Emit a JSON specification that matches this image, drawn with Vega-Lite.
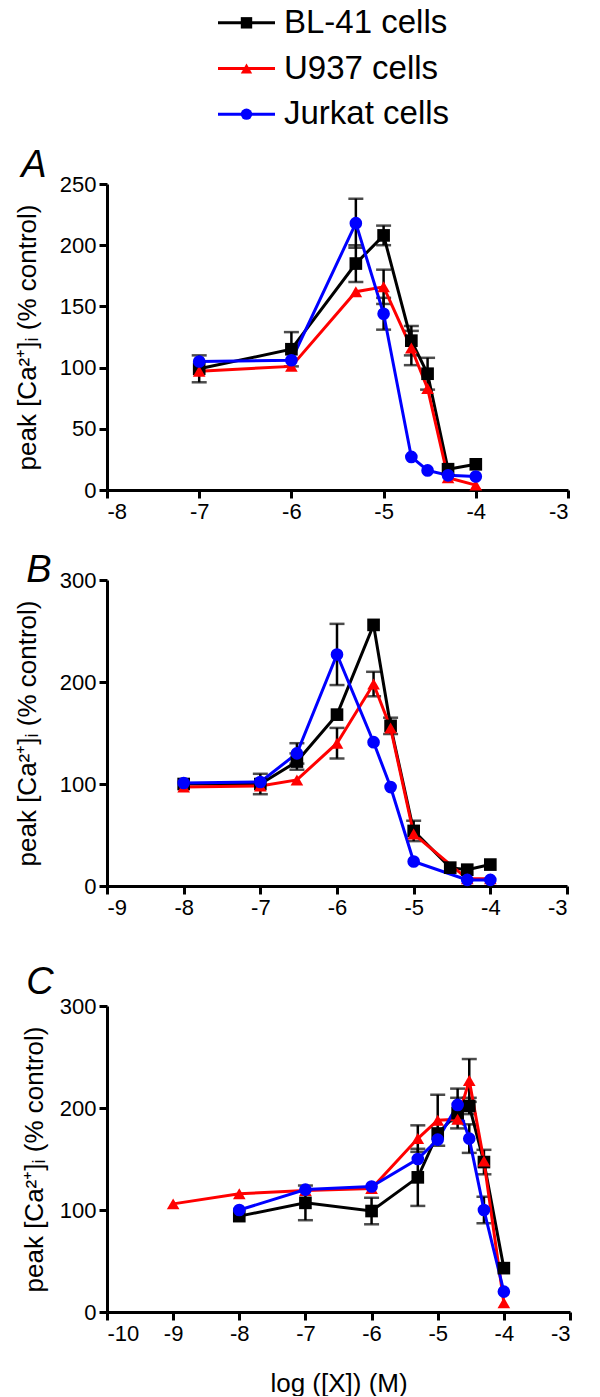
{
  "$schema": "https://vega.github.io/schema/vega-lite/v6.json",
  "padding": {"left": 14, "top": 0, "right": 0, "bottom": 0},
  "background": "white",
  "config": {
    "view": {"stroke": null},
    "font": "Liberation Sans",
    "title": {"font": "Liberation Sans", "fontSize": 38, "fontStyle": "italic", "fontWeight": "normal", "anchor": "start", "frame": "bounds", "color": "black", "offset": 0},
    "axis": {"domainColor": "black", "tickColor": "black", "labelColor": "black", "titleColor": "black", "labelFont": "Liberation Sans", "labelFontSize": 22, "titleFont": "Liberation Sans", "titleFontSize": 26, "titleFontWeight": "normal", "grid": false, "domainWidth": 3, "tickWidth": 3, "tickSize": 8, "labelPadding": 3, "titlePadding": 19, "labelOverlap": false}
  },
  "datasets": {
    "legend": [
      {"cell": "BL-41 cells"},
      {"cell": "U937 cells"},
      {"cell": "Jurkat cells"}
    ],
    "a": [
      {"cell": "BL-41 cells", "logx": -7, "y": 99, "err": 11},
      {"cell": "BL-41 cells", "logx": -6, "y": 115, "err": 14},
      {"cell": "BL-41 cells", "logx": -5.301, "y": 185, "err": 15},
      {"cell": "BL-41 cells", "logx": -5, "y": 208, "err": 8},
      {"cell": "BL-41 cells", "logx": -4.699, "y": 122, "err": 12},
      {"cell": "BL-41 cells", "logx": -4.523, "y": 95, "err": 13},
      {"cell": "BL-41 cells", "logx": -4.301, "y": 17, "err": 0},
      {"cell": "BL-41 cells", "logx": -4, "y": 21, "err": 0},
      {"cell": "U937 cells", "logx": -7, "y": 97, "err": 0},
      {"cell": "U937 cells", "logx": -6, "y": 101, "err": 0},
      {"cell": "U937 cells", "logx": -5.301, "y": 162, "err": 0},
      {"cell": "U937 cells", "logx": -5, "y": 166, "err": 14},
      {"cell": "U937 cells", "logx": -4.699, "y": 116, "err": 14},
      {"cell": "U937 cells", "logx": -4.523, "y": 83, "err": 0},
      {"cell": "U937 cells", "logx": -4.301, "y": 10, "err": 0},
      {"cell": "U937 cells", "logx": -4, "y": 4, "err": 0},
      {"cell": "Jurkat cells", "logx": -7, "y": 105, "err": 0},
      {"cell": "Jurkat cells", "logx": -6, "y": 106, "err": 0},
      {"cell": "Jurkat cells", "logx": -5.301, "y": 218, "err": 20},
      {"cell": "Jurkat cells", "logx": -5, "y": 144, "err": 13},
      {"cell": "Jurkat cells", "logx": -4.699, "y": 27, "err": 0},
      {"cell": "Jurkat cells", "logx": -4.523, "y": 16, "err": 0},
      {"cell": "Jurkat cells", "logx": -4.301, "y": 12, "err": 0},
      {"cell": "Jurkat cells", "logx": -4, "y": 11, "err": 0}
    ],
    "b": [
      {"cell": "BL-41 cells", "logx": -8, "y": 100, "err": 0},
      {"cell": "BL-41 cells", "logx": -7, "y": 100, "err": 10},
      {"cell": "BL-41 cells", "logx": -6.523, "y": 122, "err": 8},
      {"cell": "BL-41 cells", "logx": -6, "y": 168, "err": 0},
      {"cell": "BL-41 cells", "logx": -5.523, "y": 256, "err": 0},
      {"cell": "BL-41 cells", "logx": -5.301, "y": 157, "err": 8},
      {"cell": "BL-41 cells", "logx": -5, "y": 54, "err": 10},
      {"cell": "BL-41 cells", "logx": -4.523, "y": 18, "err": 0},
      {"cell": "BL-41 cells", "logx": -4.301, "y": 16, "err": 0},
      {"cell": "BL-41 cells", "logx": -4, "y": 21, "err": 0},
      {"cell": "U937 cells", "logx": -8, "y": 97, "err": 0},
      {"cell": "U937 cells", "logx": -7, "y": 98, "err": 0},
      {"cell": "U937 cells", "logx": -6.523, "y": 104, "err": 0},
      {"cell": "U937 cells", "logx": -6, "y": 140, "err": 15},
      {"cell": "U937 cells", "logx": -5.523, "y": 198, "err": 12},
      {"cell": "U937 cells", "logx": -5.301, "y": 155, "err": 0},
      {"cell": "U937 cells", "logx": -5, "y": 51, "err": 0},
      {"cell": "U937 cells", "logx": -4.301, "y": 7, "err": 0},
      {"cell": "U937 cells", "logx": -4, "y": 7, "err": 0},
      {"cell": "Jurkat cells", "logx": -8, "y": 101, "err": 0},
      {"cell": "Jurkat cells", "logx": -7, "y": 102, "err": 0},
      {"cell": "Jurkat cells", "logx": -6.523, "y": 130, "err": 10},
      {"cell": "Jurkat cells", "logx": -6, "y": 227, "err": 30},
      {"cell": "Jurkat cells", "logx": -5.523, "y": 141, "err": 0},
      {"cell": "Jurkat cells", "logx": -5.301, "y": 97, "err": 0},
      {"cell": "Jurkat cells", "logx": -5, "y": 24, "err": 0},
      {"cell": "Jurkat cells", "logx": -4.301, "y": 6, "err": 0},
      {"cell": "Jurkat cells", "logx": -4, "y": 6, "err": 0}
    ],
    "c": [
      {"cell": "BL-41 cells", "logx": -8, "y": 94, "err": 0},
      {"cell": "BL-41 cells", "logx": -7, "y": 107, "err": 17},
      {"cell": "BL-41 cells", "logx": -6, "y": 99, "err": 13},
      {"cell": "BL-41 cells", "logx": -5.301, "y": 132, "err": 28},
      {"cell": "BL-41 cells", "logx": -5, "y": 175, "err": 0},
      {"cell": "BL-41 cells", "logx": -4.699, "y": 195, "err": 15},
      {"cell": "BL-41 cells", "logx": -4.523, "y": 202, "err": 8},
      {"cell": "BL-41 cells", "logx": -4.301, "y": 147, "err": 12},
      {"cell": "BL-41 cells", "logx": -4, "y": 43, "err": 0},
      {"cell": "U937 cells", "logx": -9, "y": 106, "err": 0},
      {"cell": "U937 cells", "logx": -8, "y": 116, "err": 0},
      {"cell": "U937 cells", "logx": -7, "y": 119, "err": 0},
      {"cell": "U937 cells", "logx": -6, "y": 121, "err": 0},
      {"cell": "U937 cells", "logx": -5.301, "y": 170, "err": 13},
      {"cell": "U937 cells", "logx": -5, "y": 188, "err": 25},
      {"cell": "U937 cells", "logx": -4.699, "y": 189, "err": 0},
      {"cell": "U937 cells", "logx": -4.523, "y": 227, "err": 21},
      {"cell": "U937 cells", "logx": -4.301, "y": 148, "err": 0},
      {"cell": "U937 cells", "logx": -4, "y": 9, "err": 0},
      {"cell": "Jurkat cells", "logx": -8, "y": 100, "err": 0},
      {"cell": "Jurkat cells", "logx": -7, "y": 120, "err": 0},
      {"cell": "Jurkat cells", "logx": -6, "y": 123, "err": 0},
      {"cell": "Jurkat cells", "logx": -5.301, "y": 150, "err": 0},
      {"cell": "Jurkat cells", "logx": -5, "y": 169, "err": 0},
      {"cell": "Jurkat cells", "logx": -4.699, "y": 203, "err": 16},
      {"cell": "Jurkat cells", "logx": -4.523, "y": 170, "err": 14},
      {"cell": "Jurkat cells", "logx": -4.301, "y": 100, "err": 13},
      {"cell": "Jurkat cells", "logx": -4, "y": 20, "err": 0}
    ]
  },
  "concat": [
    {
      "concat": [
        {
          "width": 470,
          "height": 137,
          "data": {"name": "legend"},
          "encoding": {
            "y": {"field": "cell", "type": "nominal", "scale": {"domain": ["BL-41 cells", "U937 cells", "Jurkat cells"]}, "axis": null},
            "color": {"field": "cell", "type": "nominal", "scale": {"domain": ["BL-41 cells", "U937 cells", "Jurkat cells"], "range": ["#000000", "#ff0000", "#0000ff"]}, "legend": null}
          },
          "layer": [
            {
              "mark": {"type": "rule", "strokeWidth": 3},
              "encoding": {
                "x": {"datum": 111, "type": "quantitative", "scale": {"domain": [0, 470], "nice": false, "zero": false}, "axis": null},
                "x2": {"datum": 168}
              }
            },
            {
              "mark": {"type": "point", "filled": true, "opacity": 1, "size": 130},
              "encoding": {
                "x": {"datum": 139.5, "type": "quantitative"},
                "shape": {"field": "cell", "type": "nominal", "scale": {"domain": ["BL-41 cells", "U937 cells", "Jurkat cells"], "range": ["square", "triangle-up", "circle"]}, "legend": null}
              }
            },
            {
              "mark": {"type": "text", "align": "left", "baseline": "middle", "fontSize": 33, "font": "Liberation Sans", "color": "black"},
              "encoding": {
                "x": {"datum": 177, "type": "quantitative"},
                "text": {"field": "cell"},
                "color": {"value": "black"}
              }
            }
          ]
        },
        {
          "width": 461,
          "height": 306,
          "title": {"text": "A", "offset": -12, "dx": 7},
          "data": {"name": "a"},
          "encoding": {
            "x": {"field": "logx", "type": "quantitative", "scale": {"domain": [-8, -3], "nice": false, "zero": false}, "axis": {"values": [-8, -7, -6, -5, -4, -3], "title": null, "labelExpr": "'' + datum.value"}},
            "y": {"field": "y", "type": "quantitative", "scale": {"domain": [0, 250], "nice": false}, "axis": {"values": [0, 50, 100, 150, 200, 250], "title": "peak [Ca²⁺]ᵢ (% control)"}}
          },
          "layer": [
            {
              "transform": [{"filter": "datum.err > 0"}],
              "mark": {"type": "errorbar", "color": "black", "thickness": 2.5, "ticks": {"size": 15}},
              "encoding": {"yError": {"field": "err"}}
            },
            {
              "mark": {"type": "line", "strokeWidth": 3},
              "encoding": {
                "color": {"field": "cell", "type": "nominal", "scale": {"domain": ["BL-41 cells", "U937 cells", "Jurkat cells"], "range": ["#000000", "#ff0000", "#0000ff"]}, "legend": null}
              }
            },
            {
              "mark": {"type": "point", "filled": true, "opacity": 1, "size": 160},
              "encoding": {
                "color": {"field": "cell", "type": "nominal", "scale": {"domain": ["BL-41 cells", "U937 cells", "Jurkat cells"], "range": ["#000000", "#ff0000", "#0000ff"]}, "legend": null},
                "shape": {"field": "cell", "type": "nominal", "scale": {"domain": ["BL-41 cells", "U937 cells", "Jurkat cells"], "range": ["square", "triangle-up", "circle"]}, "legend": null}
              }
            },
            {
              "data": {"values": [{"label": "2-APB"}]},
              "mark": {"type": "text", "align": "left", "baseline": "middle", "fontSize": 34, "font": "Liberation Sans", "color": "black"},
              "encoding": {
                "x": {"datum": -7.26, "type": "quantitative"},
                "y": {"datum": 49, "type": "quantitative"},
                "text": {"field": "label"}
              }
            }
          ]
        }
      ],
      "columns": 1,
      "spacing": 10,
      "align": "none"
    },
    {
      "concat": [
        {
          "width": 460,
          "height": 306,
          "title": {"text": "B", "offset": -21, "dx": 12},
          "data": {"name": "b"},
          "encoding": {
            "x": {"field": "logx", "type": "quantitative", "scale": {"domain": [-9, -3], "nice": false, "zero": false}, "axis": {"values": [-9, -8, -7, -6, -5, -4, -3], "title": null, "labelExpr": "'' + datum.value"}},
            "y": {"field": "y", "type": "quantitative", "scale": {"domain": [0, 300], "nice": false}, "axis": {"values": [0, 100, 200, 300], "title": "peak [Ca²⁺]ᵢ (% control)"}}
          },
          "layer": [
            {
              "transform": [{"filter": "datum.err > 0"}],
              "mark": {"type": "errorbar", "color": "black", "thickness": 2.5, "ticks": {"size": 15}},
              "encoding": {"yError": {"field": "err"}}
            },
            {
              "mark": {"type": "line", "strokeWidth": 3},
              "encoding": {
                "color": {"field": "cell", "type": "nominal", "scale": {"domain": ["BL-41 cells", "U937 cells", "Jurkat cells"], "range": ["#000000", "#ff0000", "#0000ff"]}, "legend": null}
              }
            },
            {
              "mark": {"type": "point", "filled": true, "opacity": 1, "size": 160},
              "encoding": {
                "color": {"field": "cell", "type": "nominal", "scale": {"domain": ["BL-41 cells", "U937 cells", "Jurkat cells"], "range": ["#000000", "#ff0000", "#0000ff"]}, "legend": null},
                "shape": {"field": "cell", "type": "nominal", "scale": {"domain": ["BL-41 cells", "U937 cells", "Jurkat cells"], "range": ["square", "triangle-up", "circle"]}, "legend": null}
              }
            },
            {
              "data": {"values": [{"label": "DPBA"}]},
              "mark": {"type": "text", "align": "left", "baseline": "middle", "fontSize": 34, "font": "Liberation Sans", "color": "black"},
              "encoding": {
                "x": {"datum": -7.95, "type": "quantitative"},
                "y": {"datum": 53, "type": "quantitative"},
                "text": {"field": "label"}
              }
            }
          ]
        },
        {
          "width": 463,
          "height": 306,
          "title": {"text": "C", "offset": -7, "dx": 5},
          "data": {"name": "c"},
          "encoding": {
            "x": {"field": "logx", "type": "quantitative", "scale": {"domain": [-10, -3], "nice": false, "zero": false}, "axis": {"values": [-10, -9, -8, -7, -6, -5, -4, -3], "title": "log ([X]) (M)", "titlePadding": 26, "labelExpr": "'' + datum.value"}},
            "y": {"field": "y", "type": "quantitative", "scale": {"domain": [0, 300], "nice": false}, "axis": {"values": [0, 100, 200, 300], "title": "peak [Ca²⁺]ᵢ (% control)", "titlePadding": 12}}
          },
          "layer": [
            {
              "transform": [{"filter": "datum.err > 0"}],
              "mark": {"type": "errorbar", "color": "black", "thickness": 2.5, "ticks": {"size": 15}},
              "encoding": {"yError": {"field": "err"}}
            },
            {
              "mark": {"type": "line", "strokeWidth": 3},
              "encoding": {
                "color": {"field": "cell", "type": "nominal", "scale": {"domain": ["BL-41 cells", "U937 cells", "Jurkat cells"], "range": ["#000000", "#ff0000", "#0000ff"]}, "legend": null}
              }
            },
            {
              "mark": {"type": "point", "filled": true, "opacity": 1, "size": 160},
              "encoding": {
                "color": {"field": "cell", "type": "nominal", "scale": {"domain": ["BL-41 cells", "U937 cells", "Jurkat cells"], "range": ["#000000", "#ff0000", "#0000ff"]}, "legend": null},
                "shape": {"field": "cell", "type": "nominal", "scale": {"domain": ["BL-41 cells", "U937 cells", "Jurkat cells"], "range": ["square", "triangle-up", "circle"]}, "legend": null}
              }
            },
            {
              "data": {"values": [{"label": "2-ABB"}]},
              "mark": {"type": "text", "align": "left", "baseline": "middle", "fontSize": 34, "font": "Liberation Sans", "color": "black"},
              "encoding": {
                "x": {"datum": -8.75, "type": "quantitative"},
                "y": {"datum": 54, "type": "quantitative"},
                "text": {"field": "label"}
              }
            }
          ]
        }
      ],
      "columns": 1,
      "spacing": 46,
      "align": "none"
    }
  ],
  "columns": 1,
  "spacing": 30,
  "align": "none"
}
